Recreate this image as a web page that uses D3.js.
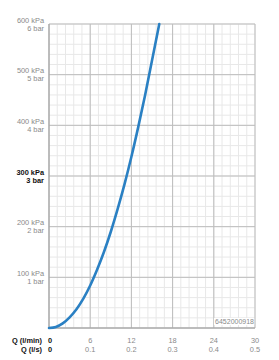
<!DOCTYPE html>
<html>
<head>
<meta charset="utf-8">
<script src="https://cdn.jsdelivr.net/npm/d3@7"></script>
<style>
  body { margin: 0; background: #fff; }
  text { font-family: "Liberation Sans", Arial, sans-serif; }
</style>
</head>
<body>
<svg id="canvas" width="279" height="360"></svg>
<script>
// flow (l/min) vs pressure (kPa)
const flow = [0, 1, 2, 3, 4, 5, 6, 7, 8, 9, 10, 11, 12, 13, 14, 15, 16.06];
const pressure = [0, 2, 9, 21, 37, 58, 84, 115, 150, 190, 235, 284, 338, 397, 460, 528, 600];

const yTicks = [100, 200, 300, 400, 500, 600];
const yKpa = ["100 kPa", "200 kPa", "300 kPa", "400 kPa", "500 kPa", "600 kPa"];
const yBar = ["1 bar", "2 bar", "3 bar", "4 bar", "5 bar", "6 bar"];
const xTicks = [0, 6, 12, 18, 24, 30];
const xLs = ["0", "0.1", "0.2", "0.3", "0.4", "0.5"];
const code = "6452000918";

const svg = d3.select("#canvas");
const mLeft = 49, mRight = 255, mTop = 24, mBottom = 328;
const fs = "7.4px";

const x = d3.scaleLinear().domain([0, 30]).range([mLeft, mRight]);
const y = d3.scaleLinear().domain([0, 600]).range([mBottom, mTop]);

const grid = svg.append("g");

// minor grid
grid.selectAll("line.mx")
  .data(d3.range(0, 30.001, 1.2))
  .join("line")
  .attr("x1", d => x(d)).attr("x2", d => x(d))
  .attr("y1", mTop).attr("y2", mBottom)
  .style("stroke", "#e8e8e8").style("stroke-width", 1);
grid.selectAll("line.my")
  .data(d3.range(0, 600.001, 20))
  .join("line")
  .attr("y1", d => y(d)).attr("y2", d => y(d))
  .attr("x1", mLeft).attr("x2", mRight)
  .style("stroke", "#e8e8e8").style("stroke-width", 1);

// major grid
grid.selectAll("line.Mx")
  .data(xTicks)
  .join("line")
  .attr("x1", d => x(d)).attr("x2", d => x(d))
  .attr("y1", mTop).attr("y2", mBottom)
  .style("stroke", "#bdbdbd").style("stroke-width", 1);
grid.selectAll("line.My")
  .data([0].concat(yTicks))
  .join("line")
  .attr("y1", d => y(d)).attr("y2", d => y(d))
  .attr("x1", mLeft).attr("x2", mRight)
  .style("stroke", "#bdbdbd").style("stroke-width", 1);

// left + bottom axis lines, a bit darker
svg.append("line")
  .attr("x1", mLeft).attr("x2", mLeft).attr("y1", mTop).attr("y2", mBottom)
  .style("stroke", "#a0a0a0");
svg.append("line")
  .attr("x1", mLeft).attr("x2", mRight).attr("y1", mBottom).attr("y2", mBottom)
  .style("stroke", "#a0a0a0");

// code label with white backing
const codeT = svg.append("text")
  .attr("x", mRight - 1).attr("y", mBottom - 4)
  .attr("text-anchor", "end")
  .style("font-size", "7px").style("fill", "#8a8a8a")
  .text(code);
const bb = codeT.node().getBBox();
svg.insert("rect", "text")
  .attr("x", bb.x - 1).attr("y", bb.y).attr("width", bb.width + 1).attr("height", bb.height)
  .style("fill", "#fff");

// curve
const line = d3.line()
  .x(d => x(d))
  .y((d, i) => y(pressure[i]))
  .curve(d3.curveCatmullRom);
svg.append("path")
  .datum(flow)
  .attr("d", line)
  .style("fill", "none")
  .style("stroke", "#2a80c3")
  .style("stroke-width", 2.6)
  .style("stroke-linecap", "round");

// y labels
const yl = svg.append("g");
yTicks.forEach((t, i) => {
  const bold = t === 300;
  const col = bold ? "#111" : "#8a8a8a";
  yl.append("text")
    .attr("x", 44).attr("y", y(t) - 1.5)
    .attr("text-anchor", "end")
    .style("font-size", fs).style("fill", col)
    .style("font-weight", bold ? "bold" : "normal")
    .text(yKpa[i]);
  yl.append("text")
    .attr("x", 44).attr("y", y(t) + 6.7)
    .attr("text-anchor", "end")
    .style("font-size", fs).style("fill", col)
    .style("font-weight", bold ? "bold" : "normal")
    .text(yBar[i]);
});

// x labels
const xl = svg.append("g");
xTicks.forEach((t, i) => {
  const first = i === 0;
  const col = first ? "#111" : "#8a8a8a";
  xl.append("text")
    .attr("x", x(t) + (first ? 1 : 0)).attr("y", 342.5)
    .attr("text-anchor", "middle")
    .style("font-size", fs).style("fill", col)
    .style("font-weight", first ? "bold" : "normal")
    .text(t);
  xl.append("text")
    .attr("x", x(t) + (first ? 1 : 0)).attr("y", 351.5)
    .attr("text-anchor", "middle")
    .style("font-size", fs).style("fill", col)
    .style("font-weight", first ? "bold" : "normal")
    .text(xLs[i]);
});
xl.append("text")
  .attr("x", 42).attr("y", 342.5).attr("text-anchor", "end")
  .style("font-size", fs).style("font-weight", "bold").style("fill", "#111")
  .text("Q (l/min)");
xl.append("text")
  .attr("x", 42).attr("y", 351.5).attr("text-anchor", "end")
  .style("font-size", fs).style("font-weight", "bold").style("fill", "#111")
  .text("Q (l/s)");
</script>
</body>
</html>
